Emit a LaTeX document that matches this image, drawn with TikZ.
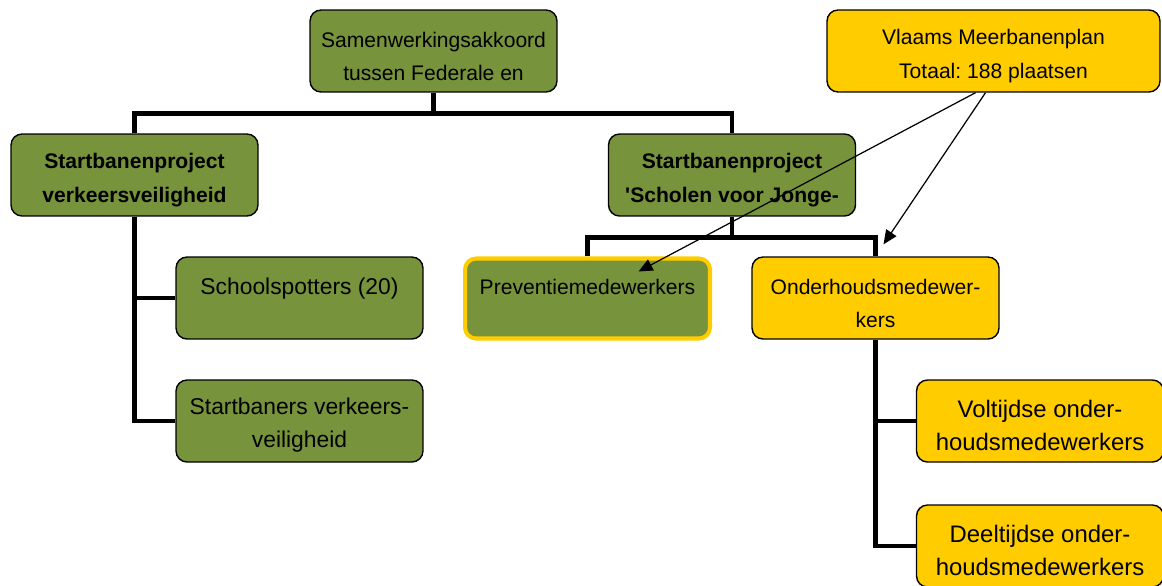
\documentclass[tikz,border=0pt]{standalone}
\usepackage{fontspec}
\setmainfont{Liberation Sans}
\usetikzlibrary{arrows.meta,calc}
\definecolor{olijf}{HTML}{77933C}
\definecolor{geel}{HTML}{FFCC00}
\begin{document}
\begin{tikzpicture}[x=0.02cm,y=-0.02cm,
    box/.style={draw=black, line width=0.8pt, rounded corners=0.22cm,
      minimum width=4.94cm, minimum height=1.64cm, inner sep=0pt,
      align=center, font=\fontsize{12}{18.9}\selectfont, text height=33.4pt},
    groen/.style={box, fill=olijf},
    geelbox/.style={box, fill=geel},
    tak/.style={line width=2.8pt},
    pijl/.style={line width=0.7pt, -{Triangle[length=8pt,width=7pt]}}
  ]
  \useasboundingbox (0,0) rectangle (1162,585);

  % bovenste rij
  \node[groen] (samen) at (433.5,51) {Samenwerkingsakkoord\\tussen Federale en};
  \node[geelbox, minimum width=6.66cm] (vlaams) at (993.5,51) {Vlaams Meerbanenplan\\Totaal:\ 188 plaatsen};

  % projecten
  \node[groen, font=\fontsize{12}{18.9}\selectfont\bfseries] (verkeer) at (134.5,175) {Startbanenproject\\verkeersveiligheid};
  \node[groen, font=\fontsize{12}{18.9}\selectfont\bfseries] (scholen) at (732,175) {Startbanenproject\\\textquotesingle Scholen voor Jonge-};

  % links
  \node[groen, font=\fontsize{13}{18.9}\selectfont] (spotters) at (299.5,298) {Schoolspotters (20)\\ \mbox{}};
  \node[groen, font=\fontsize{13}{18.9}\selectfont] (startbaners) at (299.5,421) {Startbaners verkeers-\\veiligheid};

  % rechts
  \node[groen, draw=geel, line width=2.3pt, minimum width=4.9cm, minimum height=1.6cm] (preventie) at (587.5,298.5) {Preventiemedewerkers\\ \mbox{}};
  \node[geelbox] (onderhoud) at (875.5,298) {Onderhoudsmedewer-\\kers};
  \node[geelbox, font=\fontsize{13.6}{18.9}\selectfont] (voltijds) at (1040,421) {Voltijdse onder-\\houdsmedewerkers};
  \node[geelbox, font=\fontsize{13.6}{18.9}\selectfont] (deeltijds) at (1040,546) {Deeltijdse onder-\\houdsmedewerkers};

  % verbindingen
  \draw[tak] (samen.south) -- ++(0,21) coordinate (k1);
  \draw[tak] (verkeer.north) |- (k1) -| (scholen.north);
  \draw[tak] (verkeer.south) |- (spotters.west);
  \draw[tak] (verkeer.south) |- (startbaners.west);
  \draw[tak] (scholen.south) -- ++(0,21) coordinate (k2);
  \draw[tak] (preventie.north) |- (k2) -| (onderhoud.north);
  \draw[tak] (onderhoud.south) |- (voltijds.west);
  \draw[tak] (onderhoud.south) |- (deeltijds.west);

  \draw[pijl] ($(vlaams.south)+(-18,0)$) -- ($(preventie.center)+(51,-27)$);
  \draw[pijl] ($(vlaams.south)+(-8,0)$) -- ($(onderhoud.north)+(8,-12)$);
\end{tikzpicture}
\end{document}
